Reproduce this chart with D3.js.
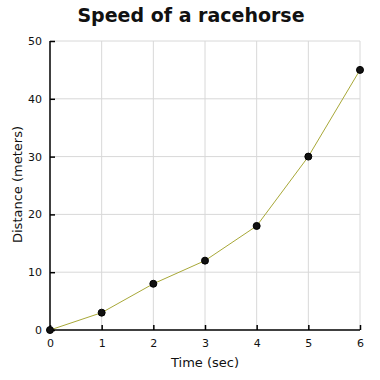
<!DOCTYPE html>
<html>
<head>
<meta charset="utf-8">
<script src="https://cdn.jsdelivr.net/npm/d3@7"></script>
<style>
  body { margin: 0; background: #fff; }
  text { font-family: "DejaVu Sans", Verdana, sans-serif; fill: #111; }
  .title { font-size: 19px; font-weight: bold; }
  .axis-label { font-size: 13px; }
  .tick text { font-size: 11px; }
</style>
</head>
<body>
<svg id="c" width="380" height="380"></svg>
<script>
  const titleText = 'Speed of a racehorse';
  const xAxisLabelText = 'Time (sec)';
  const yAxisLabelText = 'Distance (meters)';

  const times = [0, 1, 2, 3, 4, 5, 6];
  const distances = [0, 3, 8, 12, 18, 30, 45];
  const xTicks = [0, 1, 2, 3, 4, 5, 6];
  const yTicks = [0, 10, 20, 30, 40, 50];

  const data = times.map((t, i) => ({ t, d: distances[i] }));

  const svg = d3.select('#c');
  const width = +svg.attr('width');
  const height = +svg.attr('height');
  const margin = { top: 41, right: 20, bottom: 50, left: 50 };
  const innerWidth = width - margin.left - margin.right;
  const innerHeight = height - margin.top - margin.bottom;

  const xScale = d3.scaleLinear().domain([0, 6]).range([0, innerWidth]);
  const yScale = d3.scaleLinear().domain([0, 50]).range([innerHeight, 0]);

  const g = svg.append('g')
    .attr('transform', `translate(${margin.left},${margin.top})`);

  // grid
  g.append('g').selectAll('line').data(yTicks.slice(1))
    .enter().append('line')
      .attr('x1', 0).attr('x2', innerWidth)
      .attr('y1', d => yScale(d)).attr('y2', d => yScale(d))
      .attr('stroke', '#d8d8d8');
  g.append('g').selectAll('line').data(xTicks.slice(1))
    .enter().append('line')
      .attr('y1', 0).attr('y2', innerHeight)
      .attr('x1', d => xScale(d)).attr('x2', d => xScale(d))
      .attr('stroke', '#d8d8d8');

  const xAxisG = g.append('g')
    .attr('transform', `translate(0,${innerHeight})`)
    .call(d3.axisBottom(xScale).tickValues(xTicks).tickFormat(d3.format('d'))
      .tickSize(-5).tickPadding(9));
  const yAxisG = g.append('g')
    .call(d3.axisLeft(yScale).tickValues(yTicks).tickFormat(d3.format('d'))
      .tickSize(-5).tickPadding(8));

  [xAxisG, yAxisG].forEach(a => {
    a.select('.domain').attr('stroke', '#000').attr('stroke-width', 1.5);
    a.selectAll('.tick line').attr('stroke', '#000').attr('stroke-width', 1.5);
  });
  xAxisG.select('.domain').attr('d', `M0,0H${innerWidth}`);
  yAxisG.select('.domain').attr('d', `M0,${innerHeight}V0`);

  const line = d3.line().x(d => xScale(d.t)).y(d => yScale(d.d));
  g.append('path').datum(data)
    .attr('d', line)
    .attr('fill', 'none')
    .attr('stroke', '#a8a838')
    .attr('stroke-width', 1);

  g.selectAll('circle').data(data)
    .enter().append('circle')
      .attr('cx', d => xScale(d.t))
      .attr('cy', d => yScale(d.d))
      .attr('r', 3.5)
      .attr('fill', '#111')
      .attr('stroke', '#000');

  svg.append('text')
    .attr('class', 'title')
    .attr('x', 191).attr('y', 22)
    .attr('text-anchor', 'middle')
    .text(titleText);

  svg.append('text')
    .attr('class', 'axis-label')
    .attr('x', margin.left + innerWidth / 2).attr('y', 367)
    .attr('text-anchor', 'middle')
    .text(xAxisLabelText);

  svg.append('text')
    .attr('class', 'axis-label')
    .attr('transform', `translate(22,${margin.top + innerHeight / 2 - 1}) rotate(-90)`)
    .attr('text-anchor', 'middle')
    .text(yAxisLabelText);
</script>
</body>
</html>
